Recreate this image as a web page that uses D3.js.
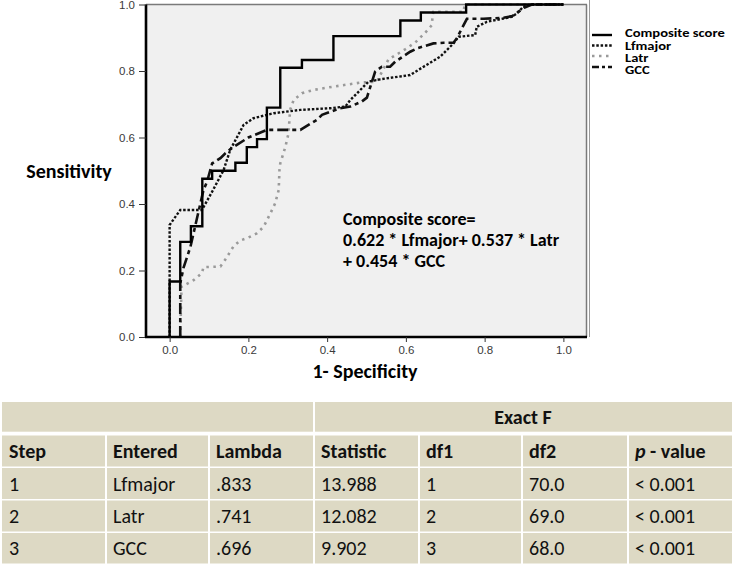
<!DOCTYPE html>
<html>
<head>
<meta charset="utf-8">
<script src="https://cdn.jsdelivr.net/npm/d3@7"></script>
<style>
  html, body { margin: 0; padding: 0; background: #ffffff; }
  svg { display: block; }
</style>
</head>
<body>
<svg id="chart" width="733" height="567"></svg>
<script>
// ---------------- DATA ----------------
const seriesNames = ["Composite score", "Lfmajor", "Latr", "GCC"];

// Composite score (step ROC curve): vertices after each step
const compositeFpr = [0, 0, 0.027, 0.054, 0.083, 0.108, 0.167, 0.196, 0.222, 0.247, 0.281, 0.336, 0.416, 0.586, 0.638, 0.753, 1];
const compositeTpr = [0, 0.167, 0.286, 0.333, 0.476, 0.5, 0.524, 0.571, 0.595, 0.69, 0.81, 0.833, 0.905, 0.952, 0.976, 1, 1];

const lfmajorFpr = [0, 0, 0.027, 0.082, 0.108, 0.137, 0.154, 0.188, 0.213, 0.264, 0.332, 0.408, 0.446, 0.459, 0.476, 0.505, 0.535, 0.611, 0.645, 0.687, 0.721, 0.734, 0.776, 0.78, 0.806, 0.848, 0.869, 0.882, 0.898, 0.915, 1];
const lfmajorTpr = [0, 0.337, 0.382, 0.382, 0.437, 0.502, 0.563, 0.638, 0.658, 0.673, 0.683, 0.688, 0.693, 0.713, 0.733, 0.768, 0.775, 0.788, 0.813, 0.843, 0.883, 0.903, 0.908, 0.933, 0.948, 0.958, 0.963, 0.973, 0.993, 1, 1];

const latrFpr = [0.027, 0.03, 0.061, 0.082, 0.086, 0.129, 0.141, 0.163, 0.179, 0.2, 0.222, 0.239, 0.256, 0.268, 0.277, 0.279, 0.281, 0.294, 0.302, 0.306, 0.315, 0.336, 0.365, 0.416, 0.484, 0.526, 0.535, 0.556, 0.577, 0.598, 0.624, 0.649, 0.666, 0.668, 0.67, 0.746, 0.75, 1];
const latrTpr = [0, 0.151, 0.171, 0.192, 0.21, 0.212, 0.232, 0.274, 0.29, 0.299, 0.312, 0.332, 0.372, 0.402, 0.442, 0.503, 0.522, 0.572, 0.613, 0.683, 0.713, 0.733, 0.743, 0.753, 0.765, 0.768, 0.788, 0.835, 0.85, 0.865, 0.886, 0.915, 0.938, 0.968, 0.978, 0.978, 1, 1];

const gccFpr = [0.027, 0.027, 0.035, 0.053, 0.086, 0.095, 0.108, 0.129, 0.141, 0.158, 0.2, 0.247, 0.332, 0.374, 0.387, 0.433, 0.459, 0.488, 0.501, 0.522, 0.539, 0.56, 0.573, 0.611, 0.628, 0.67, 0.696, 0.721, 0.729, 0.755, 0.78, 0.797, 0.848, 0.87, 0.9, 0.92, 1];
const gccTpr = [0, 0.161, 0.207, 0.272, 0.442, 0.467, 0.522, 0.538, 0.552, 0.568, 0.6, 0.623, 0.623, 0.653, 0.668, 0.688, 0.693, 0.708, 0.72, 0.798, 0.813, 0.813, 0.828, 0.858, 0.868, 0.883, 0.885, 0.885, 0.898, 0.957, 0.957, 0.957, 0.96, 0.965, 0.99, 1, 1];

const axisTicks = [0, 0.2, 0.4, 0.6, 0.8, 1.0];
const axisTitleX = "1- Specificity";
const axisTitleY = "Sensitivity";
const noteLines = ["Composite score=", "0.622 * Lfmajor+ 0.537 * Latr", "+ 0.454 * GCC"];

// Table
const tableHeaderGroup = ["", "Exact F"];
const tableColumns = ["Step", "Entered", "Lambda", "Statistic", "df1", "df2", "p - value"];
const tableStep = ["1", "2", "3"];
const tableEntered = ["Lfmajor", "Latr", "GCC"];
const tableLambda = [".833", ".741", ".696"];
const tableStatistic = ["13.988", "12.082", "9.902"];
const tableDf1 = ["1", "2", "3"];
const tableDf2 = ["70.0", "69.0", "68.0"];
const tablePValue = ["< 0.001", "< 0.001", "< 0.001"];

// ---------------- DRAW ----------------
const svg = d3.select("#chart");
const calibri = "Carlito, Lato, 'Open Sans', sans-serif";

const plot = { left: 146, right: 587, top: 4.5, bottom: 337 };
const x = d3.scaleLinear().domain([-0.06, 1.06]).range([plot.left, plot.right]);
const y = d3.scaleLinear().domain([0, 1]).range([plot.bottom, plot.top]);

// plot background
svg.append("rect")
  .attr("x", plot.left).attr("y", plot.top)
  .attr("width", plot.right - plot.left).attr("height", plot.bottom - plot.top)
  .attr("fill", "#f0f0f0");

// top & right frame
svg.append("line").attr("x1", plot.left).attr("x2", plot.right).attr("y1", plot.top).attr("y2", plot.top)
  .attr("stroke", "#7a7a7a").attr("stroke-width", 1.5);
svg.append("line").attr("x1", plot.right - 0.5).attr("x2", plot.right - 0.5).attr("y1", plot.top).attr("y2", plot.bottom)
  .attr("stroke", "#7a7a7a").attr("stroke-width", 1.5);
svg.append("line").attr("x1", plot.right + 2.5).attr("x2", plot.right + 2.5).attr("y1", 0).attr("y2", plot.bottom)
  .attr("stroke", "#9a9a9a").attr("stroke-width", 1);

// curves
const toPts = (xs, ys) => xs.map((v, i) => [v, ys[i]]);
const lineLin = d3.line().x(d => x(d[0])).y(d => y(d[1]));
const lineStep = d3.line().x(d => x(d[0])).y(d => y(d[1])).curve(d3.curveStepAfter);

const styles = {
  "Composite score": { color: "#000", width: 2.4, dash: null, legendDash: null },
  "Lfmajor": { color: "#111", width: 2.4, dash: "2.5,1.8", legendDash: "2.5,1.8" },
  "Latr": { color: "#9a9a9a", width: 2.6, dash: "2.5,4.5", legendDash: "2.5,4.5" },
  "GCC": { color: "#111", width: 2.6, dash: "11,4,4,4", legendDash: "7,3,3,3" }
};

const g = svg.append("g");
g.append("path").datum(toPts(latrFpr, latrTpr)).attr("d", lineLin)
  .attr("fill", "none").attr("stroke", styles.Latr.color).attr("stroke-width", styles.Latr.width)
  .attr("stroke-dasharray", styles.Latr.dash);
g.append("path").datum(toPts(lfmajorFpr, lfmajorTpr)).attr("d", lineLin)
  .attr("fill", "none").attr("stroke", styles.Lfmajor.color).attr("stroke-width", styles.Lfmajor.width)
  .attr("stroke-dasharray", styles.Lfmajor.dash);
g.append("path").datum(toPts(gccFpr, gccTpr)).attr("d", lineLin)
  .attr("fill", "none").attr("stroke", styles.GCC.color).attr("stroke-width", styles.GCC.width)
  .attr("stroke-dasharray", styles.GCC.dash);
g.append("path").datum(toPts(compositeFpr, compositeTpr)).attr("d", lineStep)
  .attr("fill", "none").attr("stroke", styles["Composite score"].color).attr("stroke-width", styles["Composite score"].width);

// axes
const fmt = d3.format(".1f");
const yAxis = svg.append("g").attr("transform", `translate(${plot.left},0)`)
  .call(d3.axisLeft(y).tickValues(axisTicks).tickFormat(fmt).tickSize(7).tickSizeOuter(0).tickPadding(4));
const xAxis = svg.append("g").attr("transform", `translate(0,${plot.bottom})`)
  .call(d3.axisBottom(x).tickValues(axisTicks).tickFormat(fmt).tickSize(5).tickSizeOuter(0).tickPadding(3.5));
[yAxis, xAxis].forEach(a => {
  a.selectAll("text").attr("font-family", "'Liberation Sans', Arial, sans-serif").attr("font-size", 11.5).attr("fill", "#3a3a3a");
  a.selectAll(".tick line").attr("stroke", "#333").attr("stroke-width", 1);
  a.select(".domain").attr("stroke", "#000").attr("stroke-width", 2.6);
});
yAxis.select(".domain").attr("d", `M0,${plot.top}V${plot.bottom + 1}`);
xAxis.select(".domain").attr("d", `M${plot.left - 1},0H${plot.right}`);

// axis titles
svg.append("text").attr("x", 69).attr("y", 178).attr("text-anchor", "middle")
  .attr("font-family", calibri).attr("font-weight", "bold").attr("font-size", 20).attr("fill", "#000")
  .text(axisTitleY);
svg.append("text").attr("x", 365).attr("y", 378).attr("text-anchor", "middle")
  .attr("font-family", calibri).attr("font-weight", "bold").attr("font-size", 20).attr("fill", "#000")
  .text(axisTitleX);

// annotation
svg.append("text").attr("font-family", calibri).attr("font-weight", "bold").attr("font-size", 18).attr("fill", "#000")
  .selectAll("tspan").data(noteLines).join("tspan")
  .attr("x", 343).attr("y", (d, i) => 225 + i * 20.8).text(d => d);

// legend
const legendLineY = [35, 45.5, 56, 67];
const legendTextY = [37.3, 49.6, 61.9, 74.2];
const lg = svg.append("g");
seriesNames.forEach((name, i) => {
  const s = styles[name];
  lg.append("line").attr("x1", 592).attr("x2", 612).attr("y1", legendLineY[i]).attr("y2", legendLineY[i])
    .attr("stroke", s.color).attr("stroke-width", s.width).attr("stroke-dasharray", s.legendDash);
});
lg.append("text").attr("transform", "translate(625,0) scale(1.3,1)")
  .attr("font-family", calibri).attr("font-weight", "bold").attr("font-size", 11.2).attr("fill", "#000")
  .selectAll("tspan").data(seriesNames).join("tspan")
  .attr("x", 0).attr("y", (d, i) => legendTextY[i]).text(d => d);

// ---------------- TABLE ----------------
const colEdges = [2, 106, 209, 314, 419, 522, 628, 732];
const rowTops = [402, 435.5, 468, 500.5, 533];
const rowH = [29.7, 31, 31, 31, 30.5];
const cellFill = "#ddd9c4";
const tg = svg.append("g");

// group header row
tg.append("rect").attr("x", colEdges[0]).attr("y", rowTops[0]).attr("width", colEdges[3] - 1 - colEdges[0]).attr("height", rowH[0]).attr("fill", cellFill);
tg.append("rect").attr("x", colEdges[3] + 1).attr("y", rowTops[0]).attr("width", colEdges[7] - colEdges[3] - 1).attr("height", rowH[0]).attr("fill", cellFill);
tg.append("text").attr("x", (colEdges[3] + colEdges[7]) / 2).attr("y", rowTops[0] + 22)
  .attr("text-anchor", "middle").attr("font-family", calibri).attr("font-weight", "bold").attr("font-size", 20).attr("fill", "#111")
  .text(tableHeaderGroup[1]);

const bodyCols = [tableStep, tableEntered, tableLambda, tableStatistic, tableDf1, tableDf2, tablePValue];
for (let r = 1; r < 5; r++) {
  for (let c = 0; c < 7; c++) {
    const x0 = colEdges[c] + (c === 0 ? 0 : 1);
    const x1 = colEdges[c + 1] - (c === 6 ? 0 : 1);
    tg.append("rect").attr("x", x0).attr("y", rowTops[r]).attr("width", x1 - x0).attr("height", rowH[r]).attr("fill", cellFill);
    const t = tg.append("text").attr("x", colEdges[c] + 7).attr("y", rowTops[r] + rowH[r] / 2 + 7)
      .attr("font-family", calibri).attr("font-size", 20).attr("fill", "#111");
    if (r === 1) {
      t.attr("font-weight", "bold");
      if (c === 6) {
        t.append("tspan").attr("font-style", "italic").text("p");
        t.append("tspan").text(" - value");
      } else {
        t.text(tableColumns[c]);
      }
    } else {
      t.text(bodyCols[c][r - 2]);
    }
  }
}
</script>
</body>
</html>
